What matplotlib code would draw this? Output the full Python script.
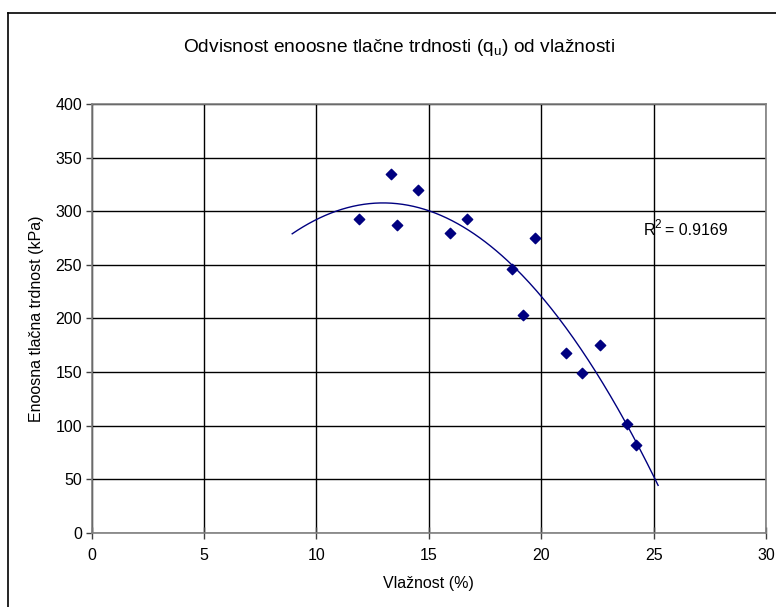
import numpy as np
import matplotlib.pyplot as plt
from matplotlib.lines import Line2D

plt.rcParams['font.family'] = ['Liberation Sans', 'DejaVu Sans']

# Measured data (moisture %, unconfined compressive strength kPa)
vlaznost = [11.90, 13.31, 13.58, 14.53, 15.93, 16.71, 18.71, 19.20,
            19.71, 21.10, 21.82, 22.60, 23.81, 24.20]
qu = [293, 335, 287, 320, 280, 293, 246, 203,
      275, 168, 149, 175, 102, 82]

x_ticks = [0, 5, 10, 15, 20, 25, 30]
y_ticks = [0, 50, 100, 150, 200, 250, 300, 350, 400]

# Trendline range (Excel forecast backward/forward)
trend_from = 8.92
trend_to = 25.20

fig = plt.figure(figsize=(7.76, 6.07), dpi=100)
ax = fig.add_axes([0.1182, 0.1219, 0.8689, 0.7068])

# 2nd order polynomial trendline
coef = np.polyfit(vlaznost, qu, 2)
xx = np.linspace(trend_from, trend_to, 200)
ax.plot(xx, np.polyval(coef, xx), color='#000080', lw=1.0, zorder=3)

ax.scatter(vlaznost, qu, marker='D', s=28, color='#000080', zorder=4)

ax.set_xlim(0, 30)
ax.set_ylim(0, 400)
ax.set_xticks(x_ticks)
ax.set_yticks(y_ticks)
ax.grid(True, color='black', lw=1.0)
ax.set_axisbelow(True)
for s in ax.spines.values():
    s.set_color('#808080')
    s.set_linewidth(1.2)
ax.tick_params(labelsize=11.5, length=4, width=1, color='#404040', direction='out')
ax.tick_params(axis='x', direction='inout', length=8, pad=7)
ax.tick_params(axis='y', pad=3)

ax.set_xlabel('Vlažnost (%)', fontsize=11.5, labelpad=9)
ax.set_ylabel('Enoosna tlačna trdnost (kPa)', fontsize=11.5, labelpad=8)

# R^2 label: R, raised 2, then the value
r2_pos = (24.57, 278)
ax.annotate('R', r2_pos, fontsize=11.5, va='baseline', ha='left')
ax.annotate('2', r2_pos, xytext=(7.3, 5), textcoords='offset points',
            fontsize=8.5, va='baseline', ha='left')
ax.annotate('= 0.9169', r2_pos, xytext=(15.5, 0), textcoords='offset points',
            fontsize=11.5, va='baseline', ha='left')

fig.text(0.514, 0.922, 'Odvisnost enoosne tlačne trdnosti (q$_\\mathregular{u}$) od vlažnosti',
         fontsize=13.8, ha='center', va='center')

# outer chart border (left and top only visible)
fig.add_artist(Line2D([8 / 776, 8 / 776], [0, 1 - 13 / 607], color='black', lw=1.2))
fig.add_artist(Line2D([8 / 776, 1], [1 - 13 / 607, 1 - 13 / 607], color='black', lw=1.2))

fig.savefig('out.png', dpi=100)
